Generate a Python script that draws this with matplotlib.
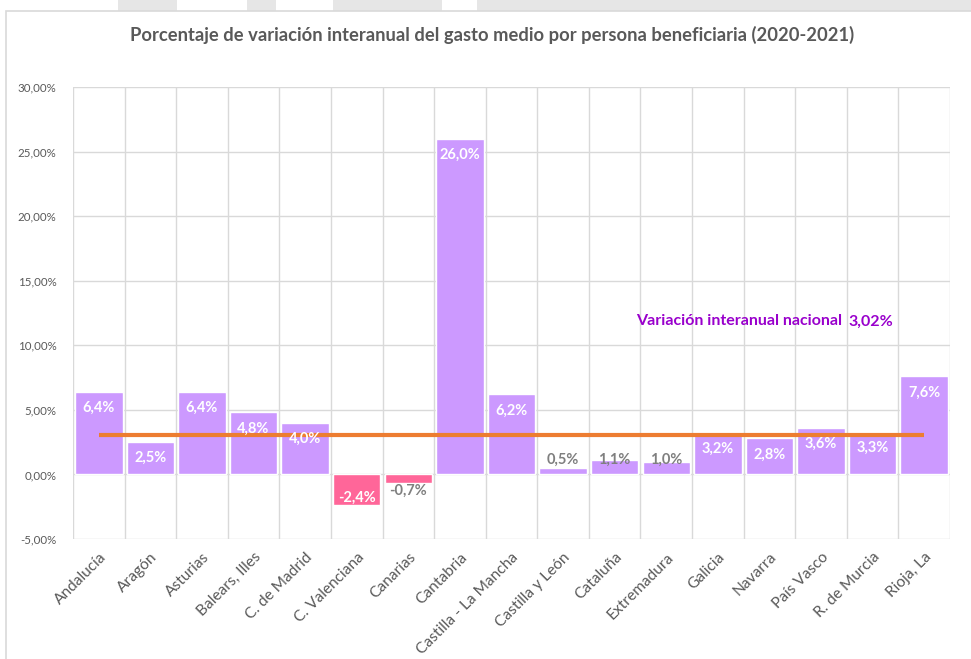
import matplotlib
matplotlib.use("Agg")
import matplotlib.pyplot as plt
from matplotlib.patches import Rectangle
from matplotlib.ticker import FuncFormatter

categories = ["Andalucía", "Aragón", "Asturias", "Balears, Illes", "C. de Madrid",
              "C. Valenciana", "Canarias", "Cantabria", "Castilla - La Mancha",
              "Castilla y León", "Cataluña", "Extremadura", "Galicia", "Navarra",
              "País Vasco", "R. de Murcia", "Rioja, La"]
values = [6.4, 2.5, 6.4, 4.8, 4.0, -2.4, -0.7, 26.0, 6.2, 0.5, 1.1, 1.0, 3.2, 2.8, 3.6, 3.3, 7.6]
national = 3.02
y_ticks = [-5, 0, 5, 10, 15, 20, 25, 30]

plt.rcParams['font.family'] = ['Lato', 'DejaVu Sans']

W, H = 971, 659
fig = plt.figure(figsize=(W / 100, H / 100), dpi=100)

# page decorations at top
for x0, x1 in [(118, 177), (247, 276), (333, 442), (477, 971)]:
    fig.patches.append(Rectangle((x0 / W, 1 - 11 / H), (x1 - x0) / W, 11 / H,
                                 transform=fig.transFigure, facecolor="#E6E6E6",
                                 edgecolor="none", zorder=0))
fig.patches.append(Rectangle((5.5 / W, -0.01), 1.0, 1 - 11 / H + 0.01,
                             transform=fig.transFigure, facecolor="white",
                             edgecolor="#D9D9D9", linewidth=1.2, zorder=1))

ax = fig.add_axes([73 / W, 1 - 539 / H, (950 - 73) / W, (539 - 87) / H])
ax.set_zorder(2)
ax.patch.set_alpha(0)

n = len(categories)
xs = list(range(n))
colors = ["#CC99FF" if v >= 0 else "#FF6699" for v in values]
ax.bar(xs, values, width=0.92, color=colors, edgecolor="white", linewidth=1.0, zorder=3)

ax.plot([xs[0], xs[-1]], [national, national], color="#ED7D31", linewidth=3, zorder=4,
        solid_capstyle="butt")

lab_kw = dict(ha="center", va="center", fontsize=10.5, fontweight="bold", zorder=5)
for x, v in zip(xs, values):
    lab = f"{v:.1f}".replace(".", ",") + "%"
    if v >= 2:
        ax.text(x, v - 1.25, lab, color="white", **lab_kw)
    elif v >= 0:
        ax.text(x, max(v, 1.15), lab, color="#7F7F7F", **lab_kw)
    elif v > -1.5:
        ax.text(x, v - 0.6, lab, color="#7F7F7F", **lab_kw)
    else:
        ax.text(x, v + 0.6, lab, color="white", **lab_kw)

ax.set_xlim(-0.5, n - 0.5)
ax.set_ylim(-5, 30)
ax.set_yticks(y_ticks)
ax.yaxis.set_major_formatter(FuncFormatter(lambda v, p: f"{v:.2f}".replace(".", ",") + "%"))
ax.tick_params(axis="y", length=0, labelsize=8.3, labelcolor="#595959", pad=12)
ax.set_xticks(xs)
ax.set_xticklabels(categories, rotation=45, ha="right", rotation_mode="anchor",
                   fontsize=11.2, color="#595959")
ax.tick_params(axis="x", length=0, pad=8)

for y in y_ticks:
    ax.axhline(y, color="#D9D9D9", linewidth=1, zorder=1)
for b in range(n + 1):
    ax.axvline(b - 0.5, color="#D9D9D9", linewidth=1, zorder=1)
for s in ax.spines.values():
    s.set_visible(False)

fig.text(739 / W, 1 - 321 / H, "Variación interanual nacional", ha="center", va="center",
         color="#9900CC", fontsize=11.5, fontweight="bold", zorder=6)
fig.text(871 / W, 1 - 322 / H, f"{national:.2f}".replace(".", ",") + "%", ha="center",
         va="center", color="#9900CC", fontsize=11.5, fontweight="bold", zorder=6)

fig.text(492 / W, 1 - 35 / H,
         "Porcentaje de variación interanual del gasto medio por persona beneficiaria (2020-2021)",
         ha="center", va="center", color="#595959", fontsize=13.2, fontweight="bold", zorder=6)

fig.savefig("out.png", dpi=100)
